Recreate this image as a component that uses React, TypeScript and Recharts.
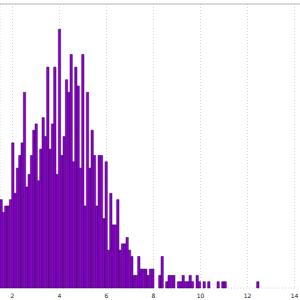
import React from 'react';
import { BarChart, Bar, XAxis, YAxis, CartesianGrid } from 'recharts';

// Histogram counts per bin (bins run left to right across the plot)
const counts: number[] = [
  14, 12, 13, 13, 14, 23, 15, 19, 21, 23, 31, 16, 18, 21, 25, 26, 17, 22, 27,
  24, 35, 22, 26, 35, 18, 41, 21, 24, 33, 31, 37, 20, 35, 32, 19, 37, 13, 31,
  19, 25, 21, 13, 21, 21, 11, 20, 6, 15, 10, 10, 14, 6, 7, 7, 8, 6, 5,
  2, 2, 5, 3, 3, 3, 2, 3, 3, 0, 0, 2, 5, 0, 1, 2, 2, 2, 0,
  1, 1, 2, 1, 1, 2, 1, 0, 2, 1, 0, 1, 0, 1, 0, 0, 0, 1, 0, 1, 1,
  0, 0, 0, 0, 0, 0, 0, 0, 0, 0, 0, 0, 0, 1,
  0, 0, 0, 0, 0, 0, 0, 0, 0, 0, 0, 0, 0, 0, 0, 0, 0, 0,
];

const xTicks: number[] = [2, 4, 6, 8, 10, 12, 14];
const yTicks: number[] = [0, 5, 10, 15, 20, 25, 30, 35, 40, 45];
const xDomain: [number, number] = [1.468, 14.277];
const yDomain: [number, number] = [0, 45];

const binWidth = (xDomain[1] - xDomain[0]) / counts.length;
const data = counts.map((c, i) => ({
  bin: i,
  x: xDomain[0] + (i + 0.5) * binWidth,
  count: c,
}));

const CHART_W = 301;
const CHART_H = 300;

export default function App() {
  return (
    <div
      style={{
        position: 'absolute',
        left: 0,
        top: 0,
        width: 300,
        height: 300,
        overflow: 'hidden',
        background: '#fff',
      }}
    >
      <BarChart
        width={CHART_W}
        height={CHART_H}
        data={data}
        margin={{ top: 4, right: 0, bottom: 0, left: 0 }}
        barCategoryGap={0}
        barGap={0}
      >
        <CartesianGrid stroke="#d6d6d6" strokeDasharray="1 2" strokeWidth={1} />
        <XAxis xAxisId="cat" dataKey="bin" type="category" hide />
        <XAxis
          xAxisId={0}
          dataKey="x"
          type="number"
          domain={xDomain}
          allowDataOverflow
          ticks={xTicks}
          interval={0}
          height={12}
          axisLine={false}
          tickLine={false}
          tickSize={3}
          tickMargin={3}
          tick={{ fontSize: 6, fill: '#222', fontFamily: 'DejaVu Sans' }}
        />
        <XAxis
          xAxisId="top"
          dataKey="x"
          orientation="top"
          mirror
          type="number"
          domain={xDomain}
          allowDataOverflow
          ticks={xTicks}
          interval={0}
          height={1}
          tick={false}
          tickSize={3}
          axisLine={{ stroke: '#bbbbbb', strokeWidth: 1 }}
          tickLine={{ stroke: '#333333' }}
        />
        <YAxis
          type="number"
          domain={yDomain}
          ticks={yTicks}
          width={0}
          tick={false}
          axisLine={false}
          tickLine={false}
        />
        <Bar
          xAxisId="cat"
          dataKey="count"
          fill="#8c00d2"
          stroke="#30004a"
          strokeWidth={0.5}
          barSize={2.333}
          isAnimationActive={false}
        />
      </BarChart>
    </div>
  );
}
